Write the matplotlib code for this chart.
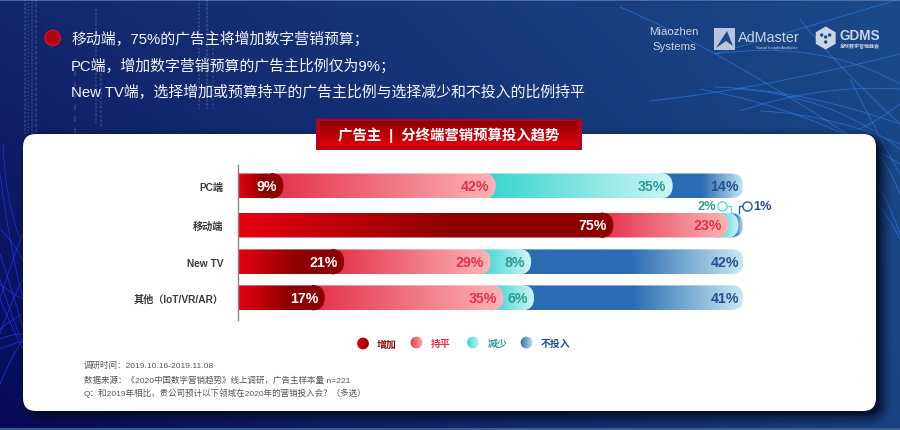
import numpy as np
import matplotlib
matplotlib.use('Agg')
import matplotlib.pyplot as plt
from matplotlib.colors import LinearSegmentedColormap, to_rgb
from matplotlib.patches import Circle, FancyBboxPatch, PathPatch, Polygon, Rectangle, RegularPolygon
from matplotlib.path import Path

plt.rcParams['font.family'] = ['Liberation Sans', 'Noto Sans CJK SC', 'DejaVu Sans']

# chart values
categories = ['PC端', '移动端', 'New TV', '其他（IoT/VR/AR）']
series_names = ['增加', '持平', '减少', '不投入']
increase = [9, 75, 21, 17]
keep_flat = [42, 23, 29, 35]
decrease = [35, 2, 8, 6]
no_spend = [14, 1, 42, 41]

headline = ['移动端，75%的广告主将增加数字营销预算；',
            'PC端，增加数字营销预算的广告主比例仅为9%；',
            'New TV端，选择增加或预算持平的广告主比例与选择减少和不投入的比例持平']
chart_title = '广告主  |  分终端营销预算投入趋势'
notes = ['调研时间：2019.10.16-2019.11.08',
         '数据来源：《2020中国数字营销趋势》线上调研，广告主样本量 n=221',
         'Q：和2019年相比，贵公司预计以下领域在2020年的营销投入会？（多选）']

# colour ramps, one per series
ramps = [
    [(0, '#e60012'), (0.58, '#8c0000'), (1, '#8c0000')],
    [(0, '#e5304a'), (1, '#fcb4b6')],
    [(0, '#33d4d0'), (1, '#cdf5f3')],
    [(0, '#2b6cb4'), (0.5, '#2b6cb4'), (1, '#c8e9f0')],
]
label_colors = ['white', '#e8304a', '#2e9a94', '#27508f']
legend_colors = ['#8b0a0a', '#e8304a', '#2e9a94', '#27508f']

W, H = 900, 431
fig = plt.figure(figsize=(W / 100, H / 100), dpi=100)

# background, in pixel coordinates
bg = fig.add_axes([0, 0, 1, 1])
bg.set_xlim(0, W)
bg.set_ylim(H, 0)
bg.axis('off')

yy, xx = np.mgrid[0:H, 0:W]
u = xx / (W - 1.0)
v = yy / (H - 1.0)
tl, tr = np.array(to_rgb('#13276e')), np.array(to_rgb('#1c4a8a'))
bl, br = np.array(to_rgb('#060a58')), np.array(to_rgb('#1a4282'))
mix = (1 - u)[..., None] * ((1 - v)[..., None] * tl + v[..., None] * bl) \
    + u[..., None] * ((1 - v)[..., None] * tr + v[..., None] * br)
bg.imshow(mix, extent=(0, W, H, 0), aspect='auto', zorder=0)
bg.set_xlim(0, W)
bg.set_ylim(H, 0)
bg.plot([0, W], [0.5, 0.5], color='#5a77a8', lw=1.2, zorder=1)
bg.plot([0, W], [430, 430], color='#3d5c94', lw=1.5, zorder=1)

# matrix style dashes on the left
for mx, top, bottom, dash in [(25, 0, 135, (1.2, 0.8)), (28, 0, 135, (0.7, 1.0)), (32, 0, 135, (1.0, 0.6)),
                              (36, 0, 135, (1.5, 1.0)), (75, 60, 135, (2.5, 3.0)), (96, 10, 125, (1.0, 0.8)),
                              (101, 70, 130, (1.2, 1.0)), (199, 0, 110, (1.0, 0.8)), (207, 0, 110, (1.4, 0.6)),
                              (213, 40, 110, (1.0, 1.2))]:
    bg.plot([mx, mx], [top, bottom], color='#b8c8e0', lw=1.5, alpha=0.17, dashes=dash, zorder=1)

# thin swooshes, left and right
left_curves = [((0, 175), (10, 250), (23, 300)), ((0, 230), (15, 245), (23, 262)), ((0, 255), (12, 290), (23, 330)),
               ((0, 300), (12, 260), (23, 235)), ((0, 335), (12, 300), (23, 280)), ((0, 280), (12, 320), (23, 345)),
               ((0, 285), (12, 295), (23, 300)), ((0, 330), (12, 320), (23, 315)), ((0, 340), (12, 335), (23, 335)),
               ((0, 350), (12, 345), (23, 342)), ((0, 385), (10, 360), (23, 340)), ((0, 300), (12, 330), (23, 350)),
               ((3, 145), (5, 200), (20, 240))]
right_curves = [((620, 8), (720, 50), (870, 150)), ((715, 55), (800, 30), (900, 0)), ((715, 55), (820, 40), (900, 85)),
                ((650, 102), (760, 90), (900, 55)), ((715, 88), (800, 90), (900, 125)), ((700, 90), (810, 110), (900, 165)),
                ((740, 112), (820, 85), (900, 90)), ((735, 90), (830, 95), (900, 150)), ((800, 20), (830, 60), (900, 125)),
                ((760, 112), (830, 115), (900, 145)), ((850, 80), (870, 120), (900, 175)), ((876, 150), (890, 170), (900, 195)),
                ((876, 185), (888, 200), (900, 235)), ((876, 205), (888, 215), (900, 240)), ((860, 130), (880, 120), (900, 105))]
for curves, color, alpha in [(left_curves, '#2036f0', 0.8), (right_curves, '#2f86f5', 0.6)]:
    for pts in curves:
        path = Path(pts, [Path.MOVETO, Path.CURVE3, Path.CURVE3])
        bg.add_patch(PathPatch(path, fc='none', ec=color, lw=0.6, alpha=alpha, zorder=1))

# soft shadow of the white panel
px0, py0, px1, py1, pr = 23, 135, 876, 412, 13
sx = np.abs(xx + 0.5 - ((px0 + px1) / 2 + 5)) - ((px1 - px0) / 2 - pr)
sy = np.abs(yy + 0.5 - ((py0 + py1) / 2 + 5)) - ((py1 - py0) / 2 - pr)
dist = np.hypot(np.maximum(sx, 0), np.maximum(sy, 0)) - pr
shadow = np.zeros((H, W, 4))
shadow[..., :3] = to_rgb('#050c28')
shadow[..., 3] = np.clip(1 - (dist + 3) / 16.0, 0, 1) ** 1.6 * 0.9
bg.imshow(shadow, extent=(0, W, H, 0), aspect='auto', zorder=2)
bg.set_xlim(0, W)
bg.set_ylim(H, 0)
bg.add_patch(FancyBboxPatch((px0, py0), px1 - px0, py1 - py0, boxstyle='round,pad=0,rounding_size=%d' % pr,
                            fc='white', ec='none', zorder=3))

# headline text
bg.add_patch(Circle((52.6, 39), 7.6, fc='#b20012', ec='#e01020', lw=1, zorder=4))
for line, ty in zip(headline, [39, 66, 92]):
    bg.text(71, ty, line, color='#f4f6fa', fontsize=10.75, va='center', ha='left', zorder=4)

# chart title plate
bg.add_patch(Rectangle((316, 119.5), 266, 31, fc='#b8001a', ec='none', zorder=4))
plate = np.linspace(0, 1, 64)[:, None]
bg.imshow(plate, extent=(320, 578, 147.5, 122.5), aspect='auto', zorder=5,
          cmap=LinearSegmentedColormap.from_list('plate', ['#8a0000', '#e2000f']))
bg.set_xlim(0, W)
bg.set_ylim(H, 0)
bg.text(449, 135.5, chart_title, color='white', fontsize=10.4, fontweight='bold', ha='center', va='center', zorder=6)

# logos
logo_color = '#c9d4e4'
bg.text(674, 32, 'Miaozhen', color=logo_color, fontsize=8.2, ha='center', va='center', zorder=4)
bg.text(674, 47, 'Systems', color=logo_color, fontsize=8.2, ha='center', va='center', zorder=4)
bg.add_patch(Rectangle((714, 29), 21, 21.5, fc='#b9c6d9', ec='none', zorder=4))
bg.add_patch(Polygon([(716, 49), (727, 32), (733, 47), (726, 42)], fc='#1c4a8a', ec='none', zorder=5))
bg.text(738, 38.5, 'AdMaster', color=logo_color, fontsize=10.4, ha='left', va='center', zorder=4)
bg.text(777, 47.5, 'Social Insight Analytics', color=logo_color, fontsize=3, ha='center', va='center', zorder=4)
bg.add_patch(RegularPolygon((825.7, 39), 6, radius=11.5, fc=logo_color, ec='none', zorder=4))
for dx, dy in [(-4, -3), (4, -3), (0, 4), (0, -1)]:
    bg.add_patch(Circle((825.7 + dx, 39 + dy), 1.7, fc='#1c4a8a', ec='none', zorder=5))
bg.text(860, 36, 'GDMS', color=logo_color, fontsize=9.8, fontweight='bold', ha='center', va='center', zorder=4)
bg.text(860, 47, '全球数字营销峰会', color=logo_color, fontsize=3.6, fontweight='bold', ha='center', va='center', zorder=4)

# legend
legend_x = [363, 416.5, 473, 526.5]
legend_tx = [376.5, 431, 487.5, 541]
legend_y = [344.5, 343.5, 343.5, 343.5]
for name, ramp, color, lx, tx, ly in zip(series_names, ramps, legend_colors, legend_x, legend_tx, legend_y):
    stops = [ramp[0][1], ramp[-1][1]] if name != series_names[0] else ['#e60012', '#8c0000']
    cmap = LinearSegmentedColormap.from_list('dot', stops)
    im = bg.imshow(np.linspace(0, 1, 64)[None, :], extent=(lx - 7, lx + 7, ly + 7, ly - 7), aspect='auto',
                   cmap=cmap, zorder=5)
    im.set_clip_path(Circle((lx, ly), 6.6, transform=bg.transData))
    # white ring hides the jagged clip edge
    bg.add_patch(Circle((lx, ly), 6.6, fc='none', ec='white', lw=1.0, zorder=6))
    bg.text(tx, ly + 0.3, name, color=color, fontsize=7.1, fontweight='bold', ha='left', va='center', zorder=5)
bg.set_xlim(0, W)
bg.set_ylim(H, 0)

# footnotes
for line, ty in zip(notes, [366, 380, 393]):
    bg.text(84, ty, line, color='#555555', fontsize=6.1, ha='left', va='center', zorder=5)

# the bars, x in percent of the row total, y in pixels
ax_left, ax_right, ax_top, ax_bottom = 237.5, 743, 166, 321
ax = fig.add_axes([ax_left / W, 1 - ax_bottom / H, (ax_right - ax_left) / W, (ax_bottom - ax_top) / H])
ax.patch.set_visible(False)
ax.set_xlim(0, 100)
ax.set_ylim(ax_bottom, ax_top)
row_y = [186.8, 226.2, 262.7, 298.7]
bar_h = 24.6
per_px = 100 / (ax_right - ax_left)
radius = 12.3


def right_round_path(x0, x1, y0, y1, rx, ry):
    verts = [(x0, y0), (x1 - rx, y0), (x1, y0), (x1, y0 + ry), (x1, y1 - ry), (x1, y1), (x1 - rx, y1), (x0, y1), (x0, y0)]
    codes = [Path.MOVETO, Path.LINETO, Path.CURVE3, Path.CURVE3, Path.LINETO, Path.CURVE3, Path.CURVE3, Path.LINETO, Path.CLOSEPOLY]
    return Path(verts, codes)


def cap_path(x1, y0, y1, rx, ry):
    verts = [(x1 - rx, y0), (x1, y0), (x1, y0 + ry), (x1, y1 - ry), (x1, y1), (x1 - rx, y1)]
    codes = [Path.MOVETO, Path.CURVE3, Path.CURVE3, Path.LINETO, Path.CURVE3, Path.CURVE3]
    return Path(verts, codes)


rows = np.array([increase, keep_flat, decrease, no_spend], dtype=float).T
rx = radius * per_px
for i, y in enumerate(row_y):
    shares = rows[i] / rows[i].sum() * 100
    ends = np.cumsum(shares)
    y0, y1 = y - bar_h / 2, y + bar_h / 2
    for s in range(3, -1, -1):
        x1 = ends[s]
        x0 = 0 if s == 0 else ends[s - 1] - rx
        cmap = LinearSegmentedColormap.from_list('seg', ramps[s])
        im = ax.imshow(np.linspace(0, 1, 256)[None, :], extent=(x0, x1, y1, y0), aspect='auto', cmap=cmap,
                       zorder=10 - s)
        im.set_clip_path(PathPatch(right_round_path(x0, x1, y0, y1, rx, radius), transform=ax.transData))
        # smooth stroke along the rounded end
        ax.add_patch(PathPatch(cap_path(x1, y0, y1, rx, radius), fc='none', ec=ramps[s][-1][1], lw=0.6, zorder=10 - s))
        value = int(rows[i][s])
        if value > 2:
            gap = -4 if s == 3 else -6
            ax.annotate('%d%%' % value, (x1, y), xytext=(gap * 0.72, 0), textcoords='offset points', ha='right',
                        va='center', color=label_colors[s], fontsize=10.2, fontweight='bold', zorder=20)

# small shares on the mobile row get leader lines
mobile = rows[1] / rows[1].sum() * 100
mobile_ends = np.cumsum(mobile)
top = row_y[1] - bar_h / 2
x2 = mobile_ends[1] + 0.3 * mobile[2]
x1pct = mobile_ends[2] + 0.3 * mobile[3]
ax.plot([x2 - 8.5 * per_px, x2, x2], [206.5, 206.5, top], color='#6fdcdc', lw=1, clip_on=False, zorder=15)
ax.plot([x2 - 8.5 * per_px], [206.5], 'o', ms=6.6, mfc='white', mec='#5dd8d8', mew=1, clip_on=False, zorder=16)
ax.plot([x1pct + 8 * per_px, x1pct, x1pct], [206.8, 206.8, top], color='#2b5fa8', lw=1, clip_on=False, zorder=15)
ax.plot([x1pct + 8 * per_px], [206.8], 'o', ms=6.6, mfc='white', mec='#2b5fa8', mew=1, clip_on=False, zorder=16)
ax.text(x2 - 15 * per_px, 206.8, '%d%%' % decrease[1], color=label_colors[2], fontsize=9.2, fontweight='bold',
        ha='right', va='center', zorder=20)
ax.text(x1pct + 14 * per_px, 206.8, '%d%%' % no_spend[1], color=label_colors[3], fontsize=9.2, fontweight='bold',
        ha='left', va='center', zorder=20)

ax.set_xlim(0, 100)
ax.set_ylim(ax_bottom, ax_top)
ax.set_xticks([])
ax.set_yticks(row_y, categories)
ax.tick_params(axis='y', length=0, pad=10, labelsize=7.3, labelcolor='#3a3a3a')
for lab in ax.get_yticklabels():
    lab.set_fontweight('bold')
for name in ['top', 'right', 'bottom']:
    ax.spines[name].set_visible(False)
ax.spines['left'].set_color('#888888')
ax.spines['left'].set_linewidth(1)
ax.spines['left'].set_zorder(30)

fig.savefig('out.png', dpi=100)
